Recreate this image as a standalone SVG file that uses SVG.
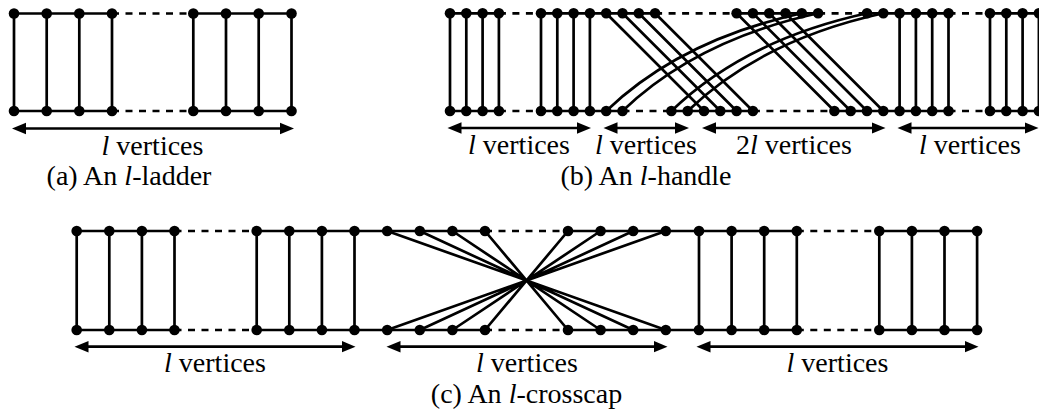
<svg xmlns="http://www.w3.org/2000/svg" width="1039" height="411" viewBox="0 0 1039 411">
<style>
.e{stroke:#000;stroke-width:2.7;fill:none}
.d{stroke-dasharray:7 6.5}
.a{stroke:#000;stroke-width:2.7;fill:none;marker-start:url(#ah);marker-end:url(#ah)}
.v circle{fill:#000}
.t{font-family:'Liberation Serif','Times New Roman',serif;font-size:28px;text-anchor:middle;fill:#000}
.i{font-style:italic}
</style>
<defs>
<marker id="ah" markerUnits="userSpaceOnUse" markerWidth="15" markerHeight="13" viewBox="0 -6.5 15 13" refX="7" refY="0" orient="auto-start-reverse">
<path d="M0,-5.8 L14,0 L0,5.8 z" fill="#000"/>
</marker>
</defs>
<rect width="1039" height="411" fill="#fff"/>
<g id="connectors">
<path class="e" d="M14,13.5H112M193.3,13.5H291.5M14,111H112M193.3,111H291.5"/>
<path class="e d" d="M112,13.5H193.3M112,111H193.3"/>
<path class="e" d="M14,13.5V111M46.7,13.5V111M79.3,13.5V111M112,13.5V111M193.3,13.5V111M226,13.5V111M258.7,13.5V111M291.5,13.5V111"/>
<line class="a" x1="19" y1="128.5" x2="287" y2="128.5"/>
<path class="e" d="M450,13.3H498.9M541,13.3H655.1M736.6,13.3H818.1M867,13.3H948.5M990,13.3H1039"/>
<path class="e d" d="M498.9,13.3H541M655.1,13.3H736.6M818.1,13.3H867M948.5,13.3H990"/>
<path class="e" d="M450,111H498.9M541,111H622.5M671.4,111H752.9M834.4,111H948.5M990,111H1039"/>
<path class="e d" d="M498.9,111H541M622.5,111H671.4M752.9,111H834.4M948.5,111H990"/>
<path class="e" d="M450,13.3V111M466.3,13.3V111M482.6,13.3V111M498.9,13.3V111M541,13.3V111M557.3,13.3V111M573.6,13.3V111M589.9,13.3V111M899.6,13.3V111M915.9,13.3V111M932.2,13.3V111M948.5,13.3V111M990,13.3V111M1006.3,13.3V111M1022.6,13.3V111M1038.9,13.3V111"/>
<path class="e" d="M606.2,13.3L704,111M622.5,13.3L720.3,111M638.8,13.3L736.6,111M655.1,13.3L752.9,111M736.6,13.3L834.4,111M752.9,13.3L850.7,111M769.2,13.3L867,111M785.5,13.3L883.3,111"/>
<path class="e" d="M606.2,111Q680,40 801.8,13.3M622.5,111Q696.3,40 818.1,13.3M671.4,111Q745,40 867,13.3M687.7,111Q761.3,40 883.3,13.3"/>
<line class="a" x1="454.5" y1="128" x2="584" y2="128"/>
<line class="a" x1="610.5" y1="128" x2="682" y2="128"/>
<line class="a" x1="709" y1="128" x2="878.5" y2="128"/>
<line class="a" x1="904.5" y1="128" x2="1031.5" y2="128"/>
<path class="e" d="M76.7,231H174.5M256.7,231H485M568,231H796.8M879.3,231H977.1M76.7,330H174.5M256.7,330H485M568,330H796.8M879.3,330H977.1"/>
<path class="e d" d="M174.5,231H256.7M485,231H568M796.8,231H879.3M174.5,330H256.7M485,330H568M796.8,330H879.3"/>
<path class="e" d="M76.7,231V330M109.3,231V330M141.9,231V330M174.5,231V330M256.7,231V330M289.3,231V330M321.9,231V330M354.5,231V330M699,231V330M731.6,231V330M764.2,231V330M796.8,231V330M879.3,231V330M911.9,231V330M944.5,231V330M977.1,231V330"/>
<path class="e" d="M387.2,231L665.8,330M419.8,231L633.2,330M452.4,231L600.6,330M485,231L568,330M568,231L485,330M600.6,231L452.4,330M633.2,231L419.8,330M665.8,231L387.2,330"/>
<line class="a" x1="81.5" y1="346.7" x2="348.5" y2="346.7"/>
<line class="a" x1="393.5" y1="346.7" x2="660.5" y2="346.7"/>
<line class="a" x1="703.5" y1="346.7" x2="971.5" y2="346.7"/>
</g>
<g class="v">
<g id="a-t1"><circle cx="14" cy="13.5" r="5.3"/></g><g id="a-t2"><circle cx="46.7" cy="13.5" r="5.3"/></g><g id="a-t3"><circle cx="79.3" cy="13.5" r="5.3"/></g><g id="a-t4"><circle cx="112" cy="13.5" r="5.3"/></g>
<g id="a-t5"><circle cx="193.3" cy="13.5" r="5.3"/></g><g id="a-t6"><circle cx="226" cy="13.5" r="5.3"/></g><g id="a-t7"><circle cx="258.7" cy="13.5" r="5.3"/></g><g id="a-t8"><circle cx="291.5" cy="13.5" r="5.3"/></g>
<g id="a-b1"><circle cx="14" cy="111" r="5.3"/></g><g id="a-b2"><circle cx="46.7" cy="111" r="5.3"/></g><g id="a-b3"><circle cx="79.3" cy="111" r="5.3"/></g><g id="a-b4"><circle cx="112" cy="111" r="5.3"/></g>
<g id="a-b5"><circle cx="193.3" cy="111" r="5.3"/></g><g id="a-b6"><circle cx="226" cy="111" r="5.3"/></g><g id="a-b7"><circle cx="258.7" cy="111" r="5.3"/></g><g id="a-b8"><circle cx="291.5" cy="111" r="5.3"/></g>
</g>
<g class="v">
<g id="b-t1"><circle cx="450" cy="13.3" r="5.3"/></g><g id="b-t2"><circle cx="466.3" cy="13.3" r="5.3"/></g><g id="b-t3"><circle cx="482.6" cy="13.3" r="5.3"/></g><g id="b-t4"><circle cx="498.9" cy="13.3" r="5.3"/></g>
<g id="b-t5"><circle cx="541" cy="13.3" r="5.3"/></g><g id="b-t6"><circle cx="557.3" cy="13.3" r="5.3"/></g><g id="b-t7"><circle cx="573.6" cy="13.3" r="5.3"/></g><g id="b-t8"><circle cx="589.9" cy="13.3" r="5.3"/></g>
<g id="b-t9"><circle cx="606.2" cy="13.3" r="5.3"/></g><g id="b-t10"><circle cx="622.5" cy="13.3" r="5.3"/></g><g id="b-t11"><circle cx="638.8" cy="13.3" r="5.3"/></g><g id="b-t12"><circle cx="655.1" cy="13.3" r="5.3"/></g>
<g id="b-t13"><circle cx="736.6" cy="13.3" r="5.3"/></g><g id="b-t14"><circle cx="752.9" cy="13.3" r="5.3"/></g><g id="b-t15"><circle cx="769.2" cy="13.3" r="5.3"/></g><g id="b-t16"><circle cx="785.5" cy="13.3" r="5.3"/></g><g id="b-t17"><circle cx="801.8" cy="13.3" r="5.3"/></g><g id="b-t18"><circle cx="818.1" cy="13.3" r="5.3"/></g>
<g id="b-t19"><circle cx="867" cy="13.3" r="5.3"/></g><g id="b-t20"><circle cx="883.3" cy="13.3" r="5.3"/></g><g id="b-t21"><circle cx="899.6" cy="13.3" r="5.3"/></g><g id="b-t22"><circle cx="915.9" cy="13.3" r="5.3"/></g><g id="b-t23"><circle cx="932.2" cy="13.3" r="5.3"/></g><g id="b-t24"><circle cx="948.5" cy="13.3" r="5.3"/></g>
<g id="b-t25"><circle cx="990" cy="13.3" r="5.3"/></g><g id="b-t26"><circle cx="1006.3" cy="13.3" r="5.3"/></g><g id="b-t27"><circle cx="1022.6" cy="13.3" r="5.3"/></g><g id="b-t28"><circle cx="1038.9" cy="13.3" r="5.3"/></g>
<g id="b-b1"><circle cx="450" cy="111" r="5.3"/></g><g id="b-b2"><circle cx="466.3" cy="111" r="5.3"/></g><g id="b-b3"><circle cx="482.6" cy="111" r="5.3"/></g><g id="b-b4"><circle cx="498.9" cy="111" r="5.3"/></g>
<g id="b-b5"><circle cx="541" cy="111" r="5.3"/></g><g id="b-b6"><circle cx="557.3" cy="111" r="5.3"/></g><g id="b-b7"><circle cx="573.6" cy="111" r="5.3"/></g><g id="b-b8"><circle cx="589.9" cy="111" r="5.3"/></g><g id="b-b9"><circle cx="606.2" cy="111" r="5.3"/></g><g id="b-b10"><circle cx="622.5" cy="111" r="5.3"/></g>
<g id="b-b11"><circle cx="671.4" cy="111" r="5.3"/></g><g id="b-b12"><circle cx="687.7" cy="111" r="5.3"/></g><g id="b-b13"><circle cx="704" cy="111" r="5.3"/></g><g id="b-b14"><circle cx="720.3" cy="111" r="5.3"/></g><g id="b-b15"><circle cx="736.6" cy="111" r="5.3"/></g><g id="b-b16"><circle cx="752.9" cy="111" r="5.3"/></g>
<g id="b-b17"><circle cx="834.4" cy="111" r="5.3"/></g><g id="b-b18"><circle cx="850.7" cy="111" r="5.3"/></g><g id="b-b19"><circle cx="867" cy="111" r="5.3"/></g><g id="b-b20"><circle cx="883.3" cy="111" r="5.3"/></g><g id="b-b21"><circle cx="899.6" cy="111" r="5.3"/></g><g id="b-b22"><circle cx="915.9" cy="111" r="5.3"/></g><g id="b-b23"><circle cx="932.2" cy="111" r="5.3"/></g><g id="b-b24"><circle cx="948.5" cy="111" r="5.3"/></g>
<g id="b-b25"><circle cx="990" cy="111" r="5.3"/></g><g id="b-b26"><circle cx="1006.3" cy="111" r="5.3"/></g><g id="b-b27"><circle cx="1022.6" cy="111" r="5.3"/></g><g id="b-b28"><circle cx="1038.9" cy="111" r="5.3"/></g>
</g>
<g class="v">
<g id="c-t1"><circle cx="76.7" cy="231" r="5.3"/></g><g id="c-t2"><circle cx="109.3" cy="231" r="5.3"/></g><g id="c-t3"><circle cx="141.9" cy="231" r="5.3"/></g><g id="c-t4"><circle cx="174.5" cy="231" r="5.3"/></g>
<g id="c-t5"><circle cx="256.7" cy="231" r="5.3"/></g><g id="c-t6"><circle cx="289.3" cy="231" r="5.3"/></g><g id="c-t7"><circle cx="321.9" cy="231" r="5.3"/></g><g id="c-t8"><circle cx="354.5" cy="231" r="5.3"/></g>
<g id="c-t9"><circle cx="387.2" cy="231" r="5.3"/></g><g id="c-t10"><circle cx="419.8" cy="231" r="5.3"/></g><g id="c-t11"><circle cx="452.4" cy="231" r="5.3"/></g><g id="c-t12"><circle cx="485" cy="231" r="5.3"/></g>
<g id="c-t13"><circle cx="568" cy="231" r="5.3"/></g><g id="c-t14"><circle cx="600.6" cy="231" r="5.3"/></g><g id="c-t15"><circle cx="633.2" cy="231" r="5.3"/></g><g id="c-t16"><circle cx="665.8" cy="231" r="5.3"/></g>
<g id="c-t17"><circle cx="699" cy="231" r="5.3"/></g><g id="c-t18"><circle cx="731.6" cy="231" r="5.3"/></g><g id="c-t19"><circle cx="764.2" cy="231" r="5.3"/></g><g id="c-t20"><circle cx="796.8" cy="231" r="5.3"/></g>
<g id="c-t21"><circle cx="879.3" cy="231" r="5.3"/></g><g id="c-t22"><circle cx="911.9" cy="231" r="5.3"/></g><g id="c-t23"><circle cx="944.5" cy="231" r="5.3"/></g><g id="c-t24"><circle cx="977.1" cy="231" r="5.3"/></g>
<g id="c-b1"><circle cx="76.7" cy="330" r="5.3"/></g><g id="c-b2"><circle cx="109.3" cy="330" r="5.3"/></g><g id="c-b3"><circle cx="141.9" cy="330" r="5.3"/></g><g id="c-b4"><circle cx="174.5" cy="330" r="5.3"/></g>
<g id="c-b5"><circle cx="256.7" cy="330" r="5.3"/></g><g id="c-b6"><circle cx="289.3" cy="330" r="5.3"/></g><g id="c-b7"><circle cx="321.9" cy="330" r="5.3"/></g><g id="c-b8"><circle cx="354.5" cy="330" r="5.3"/></g>
<g id="c-b9"><circle cx="387.2" cy="330" r="5.3"/></g><g id="c-b10"><circle cx="419.8" cy="330" r="5.3"/></g><g id="c-b11"><circle cx="452.4" cy="330" r="5.3"/></g><g id="c-b12"><circle cx="485" cy="330" r="5.3"/></g>
<g id="c-b13"><circle cx="568" cy="330" r="5.3"/></g><g id="c-b14"><circle cx="600.6" cy="330" r="5.3"/></g><g id="c-b15"><circle cx="633.2" cy="330" r="5.3"/></g><g id="c-b16"><circle cx="665.8" cy="330" r="5.3"/></g>
<g id="c-b17"><circle cx="699" cy="330" r="5.3"/></g><g id="c-b18"><circle cx="731.6" cy="330" r="5.3"/></g><g id="c-b19"><circle cx="764.2" cy="330" r="5.3"/></g><g id="c-b20"><circle cx="796.8" cy="330" r="5.3"/></g>
<g id="c-b21"><circle cx="879.3" cy="330" r="5.3"/></g><g id="c-b22"><circle cx="911.9" cy="330" r="5.3"/></g><g id="c-b23"><circle cx="944.5" cy="330" r="5.3"/></g><g id="c-b24"><circle cx="977.1" cy="330" r="5.3"/></g>
</g>
<g id="labels" font-family="'Liberation Serif', serif">
<text class="t" x="152.5" y="155"><tspan class="i">l</tspan> vertices</text>
<text class="t" x="129" y="185">(a) An <tspan class="i">l</tspan>-ladder</text>
<text class="t" x="519" y="154"><tspan class="i">l</tspan> vertices</text>
<text class="t" x="646" y="154"><tspan class="i">l</tspan> vertices</text>
<text class="t" x="794" y="154">2<tspan class="i">l</tspan> vertices</text>
<text class="t" x="970" y="154"><tspan class="i">l</tspan> vertices</text>
<text class="t" x="646" y="185">(b) An <tspan class="i">l</tspan>-handle</text>
<text class="t" x="215" y="372"><tspan class="i">l</tspan> vertices</text>
<text class="t" x="527" y="372"><tspan class="i">l</tspan> vertices</text>
<text class="t" x="837.5" y="372"><tspan class="i">l</tspan> vertices</text>
<text class="t" x="526.5" y="403">(c) An <tspan class="i">l</tspan>-crosscap</text>
</g>
</svg>
